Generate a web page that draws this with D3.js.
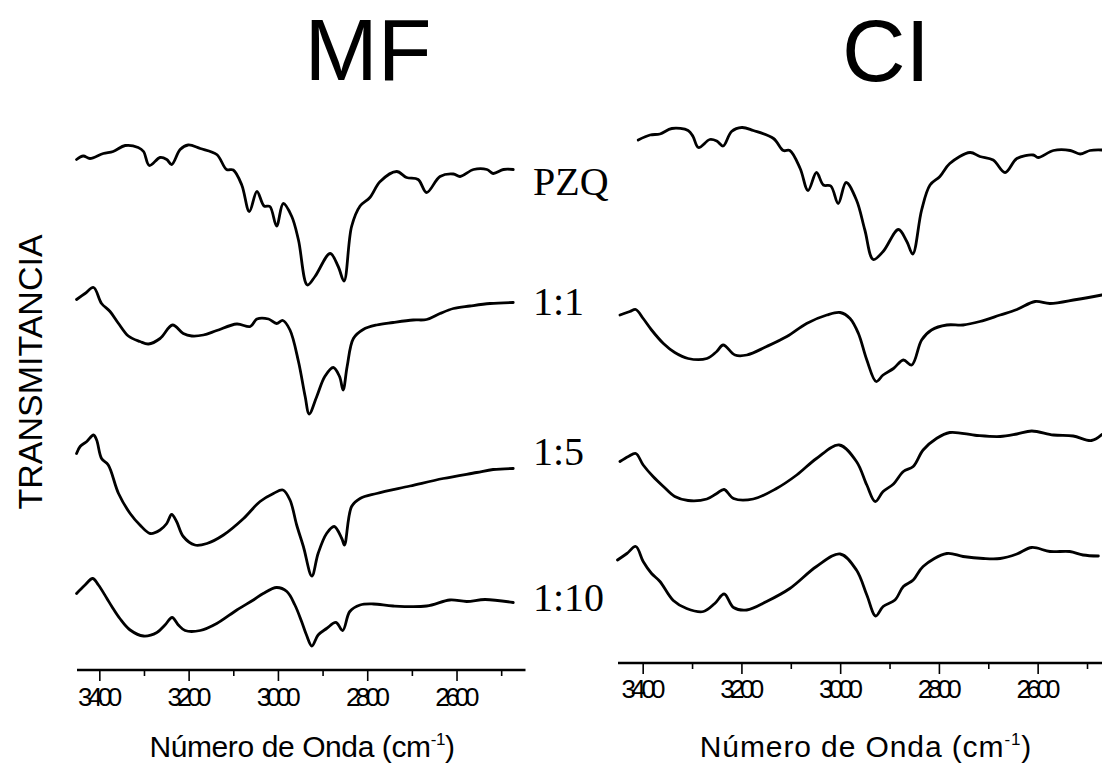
<!DOCTYPE html>
<html>
<head>
<meta charset="utf-8">
<script src="https://cdn.jsdelivr.net/npm/d3@7"></script>
<style>
  html, body { margin: 0; padding: 0; background: #fff; }
  svg { display: block; }
</style>
</head>
<body>
<script>
// ---------- DATA (wavenumber cm^-1, relative transmittance, stacked) ----------
const panels = ["MF", "CI"];
const seriesNames = ["PZQ", "1:1", "1:5", "1:10"];
const majorTicks = [3400, 3200, 3000, 2800, 2600];
const minorTicks = [3300, 3100, 2900, 2700, 2500];
const yTitle = "TRANSMITANCIA";
const xTitle = "Número de Onda (cm";
const xTitleSup = "-1";

// MF panel
const mfPZQ = [[3451,102.1],[3436,102.8],[3421,102.3],[3391,103.3],[3369,103.7],[3342,104.9],[3313,104.5],[3301,103.7],[3288,100.9],[3264,102.5],[3249,102.1],[3238,101.1],[3219,104.1],[3201,105.0],[3174,104.3],[3137,103.1],[3115,100.1],[3100,100.0],[3081,97.0],[3064,91.7],[3047,95.7],[3031,92.8],[3018,92.7],[3003,88.8],[2988,93.3],[2969,90.7],[2954,86.0],[2934,77.0],[2917,78.7],[2883,83.3],[2865,80.7],[2852,77.8],[2835,88.7],[2816,92.8],[2794,94.5],[2771,97.7],[2734,99.7],[2712,98.5],[2686,98.1],[2667,95.5],[2637,98.7],[2607,99.2],[2592,98.7],[2562,100.1],[2532,100.1],[2518,99.3],[2495,100.1],[2473,100.1]];
const mf11 = [[3451,74.1],[3432,75.3],[3413,76.5],[3395,73.3],[3376,71.7],[3357,69.3],[3335,66.8],[3309,65.7],[3290,65.2],[3264,66.3],[3236,69.0],[3212,67.3],[3193,66.8],[3167,67.0],[3137,67.9],[3092,69.2],[3062,68.7],[3047,70.2],[3021,70.2],[3003,69.3],[2989,69.9],[2973,68.0],[2954,61.7],[2939,54.7],[2930,51.2],[2913,54.7],[2895,58.7],[2876,60.5],[2862,58.7],[2854,56.0],[2845,60.7],[2831,66.3],[2809,68.1],[2779,69.0],[2742,69.5],[2697,70.0],[2667,70.1],[2637,71.3],[2607,72.3],[2570,72.8],[2525,73.3],[2473,73.5]];
const mf15 = [[3451,43.3],[3443,44.7],[3428,45.7],[3413,47.0],[3406,46.0],[3395,42.3],[3380,41.0],[3357,35.3],[3331,31.3],[3309,29.0],[3286,27.3],[3264,28.0],[3249,29.3],[3238,31.1],[3227,29.7],[3212,26.7],[3186,25.0],[3159,25.3],[3122,27.0],[3077,30.3],[3040,33.7],[3010,35.3],[2989,36.0],[2973,34.0],[2958,29.0],[2943,24.7],[2924,18.8],[2910,23.3],[2891,27.3],[2874,28.7],[2857,26.3],[2851,25.0],[2835,32.7],[2816,34.3],[2779,35.3],[2704,36.8],[2630,38.3],[2555,39.5],[2518,40.1],[2473,40.3]];
const mf110 = [[3451,15.3],[3432,17.0],[3415,18.3],[3402,17.0],[3383,14.3],[3372,12.7],[3354,10.3],[3331,8.0],[3301,6.8],[3271,7.5],[3253,9.0],[3237,10.5],[3223,9.0],[3208,7.9],[3174,7.9],[3137,9.3],[3092,12.0],[3055,14.0],[3033,15.3],[3003,16.5],[2980,15.7],[2962,13.0],[2947,9.7],[2936,7.0],[2924,4.8],[2910,7.0],[2891,8.3],[2870,9.5],[2855,7.9],[2839,11.7],[2816,13.0],[2786,13.2],[2742,12.8],[2667,12.8],[2615,14.0],[2577,13.7],[2536,14.1],[2473,13.5]];

// CI panel
const ciPZQ = [[3409,104.6],[3385,105.6],[3365,105.8],[3341,106.9],[3308,106.5],[3298,105.3],[3287,103.1],[3264,104.7],[3250,104.4],[3237,103.4],[3220,106.3],[3199,107.1],[3176,106.5],[3135,104.9],[3115,102.5],[3102,102.5],[3081,98.9],[3065,94.5],[3048,98.1],[3034,95.6],[3019,95.4],[3004,91.9],[2988,96.1],[2967,92.6],[2950,86.6],[2933,80.7],[2913,82.3],[2882,86.7],[2865,84.3],[2853,81.8],[2835,90.6],[2818,95.6],[2798,97.3],[2778,99.9],[2737,102.1],[2717,101.3],[2690,100.6],[2666,98.1],[2642,100.9],[2609,101.6],[2599,101.1],[2568,102.5],[2534,102.5],[2514,101.8],[2494,102.5],[2470,102.6]];
const ci11 = [[3446,69.6],[3426,70.3],[3414,70.7],[3399,68.9],[3382,66.6],[3358,63.9],[3335,62.1],[3308,60.9],[3270,60.9],[3250,62.3],[3237,63.6],[3213,61.6],[3189,61.6],[3149,63.3],[3108,65.3],[3068,67.9],[3027,69.6],[3000,70.1],[2980,68.9],[2963,65.9],[2946,60.6],[2927,56.3],[2913,57.6],[2892,58.9],[2872,60.6],[2855,59.6],[2835,64.6],[2815,66.6],[2784,67.6],[2751,67.6],[2717,68.3],[2676,69.6],[2642,70.7],[2605,72.3],[2575,71.9],[2521,72.7],[2470,73.6]];
const ci15 = [[3446,40.3],[3429,41.3],[3414,41.9],[3399,39.6],[3379,37.3],[3358,35.3],[3335,33.3],[3308,32.5],[3270,32.8],[3250,33.9],[3235,34.7],[3216,32.9],[3176,32.8],[3129,34.9],[3088,37.6],[3048,40.9],[3002,43.6],[2967,40.3],[2946,35.6],[2929,32.3],[2913,34.3],[2892,35.8],[2872,38.3],[2852,39.3],[2832,42.6],[2805,44.9],[2778,46.1],[2723,45.5],[2676,45.3],[2642,45.8],[2612,46.4],[2568,45.6],[2528,45.4],[2491,44.5],[2470,45.7]];
const ci110 = [[3451,20.6],[3432,21.9],[3414,23.3],[3399,20.3],[3382,17.9],[3365,16.3],[3338,12.5],[3311,10.9],[3277,10.3],[3254,11.9],[3235,13.8],[3216,11.1],[3189,10.6],[3149,12.3],[3102,14.9],[3048,19.3],[3000,21.8],[2967,18.6],[2946,13.6],[2928,9.4],[2913,11.3],[2889,12.6],[2872,15.3],[2852,16.6],[2832,19.3],[2784,21.9],[2751,21.3],[2710,20.9],[2676,20.9],[2642,21.8],[2612,23.1],[2575,22.3],[2535,22.3],[2508,21.6],[2477,21.4]];

const panelSeries = [[mfPZQ, mf11, mf15, mf110], [ciPZQ, ci11, ci15, ci110]];

// ---------- LAYOUT ----------
const W = 1102, H = 772;
const svg = d3.select("body").append("svg").attr("width", W).attr("height", H)
  .style("font-family", "'Liberation Sans', Arial, sans-serif");
svg.append("rect").attr("width", W).attr("height", H).attr("fill", "#fff");

const panelLayout = [
  { x0: 77, x1: 523.5, axisY: 670, yTop: 120, titleX: 368, titleY: 80, xTitleX: 302, xTitleY: 757, spacing: -0.4, tickLabelY: 18 },
  { x0: 618, x1: 1111.7, axisY: 663, yTop: 113, titleX: 886, titleY: 81, xTitleX: 866, xTitleY: 757, spacing: 0.9, tickLabelY: 17 }
];

panels.forEach((name, p) => {
  const L = panelLayout[p];
  const x = d3.scaleLinear().domain([3450, 2450]).range([L.x0, L.x1]);
  const y = d3.scaleLinear().domain([0, 110]).range([L.axisY, L.yTop]);
  const g = svg.append("g");

  const line = d3.line()
    .x(d => x(d[0])).y(d => y(d[1]))
    .curve(d3.curveCatmullRom.alpha(0.5));

  panelSeries[p].forEach(s => {
    g.append("path").datum(s).attr("d", line)
      .attr("fill", "none").attr("stroke", "#000")
      .attr("stroke-width", 2.8).attr("stroke-linejoin", "round").attr("stroke-linecap", "round");
  });

  // minor ticks
  const minorAxis = d3.axisBottom(x).tickValues(minorTicks).tickSize(6).tickSizeOuter(0).tickFormat("");
  const gm = g.append("g").attr("transform", `translate(0,${L.axisY})`).call(minorAxis);
  gm.select(".domain").remove();
  gm.selectAll("line").attr("stroke", "#000").attr("stroke-width", 1.6);

  // major axis
  const majorAxis = d3.axisBottom(x).tickValues(majorTicks).tickSize(11).tickSizeOuter(0).tickFormat(d3.format("d"));
  const ga = g.append("g").attr("transform", `translate(0,${L.axisY})`).call(majorAxis);
  ga.select(".domain").attr("stroke", "#000").attr("stroke-width", 2.4)
    .attr("d", `M${L.x0},0H${L.x1 + 2}`);
  ga.selectAll(".tick line").attr("stroke", "#000").attr("stroke-width", 1.6);
  ga.selectAll(".tick text")
    .attr("y", L.tickLabelY).attr("dy", "0.71em")
    .attr("dx", "-2px")
    .attr("fill", "#000")
    .style("font-family", "'Liberation Sans', Arial, sans-serif")
    .style("font-size", "26px")
    .style("letter-spacing", "-4.6px");

  // panel title
  svg.append("text").attr("x", L.titleX).attr("y", L.titleY)
    .attr("text-anchor", "middle").style("font-size", "88px").attr("fill", "#000")
    .text(name);

  // x axis title
  const t = svg.append("text").attr("x", L.xTitleX).attr("y", L.xTitleY)
    .attr("text-anchor", "middle").style("font-size", "30px").attr("fill", "#000")
    .style("letter-spacing", L.spacing + "px");
  t.append("tspan").text(xTitle);
  t.append("tspan").attr("dy", -12).style("font-size", "17px").text(xTitleSup);
  t.append("tspan").attr("dy", 12).text(")");
});

// series labels
const labelY = [195, 315, 465, 611];
seriesNames.forEach((n, i) => {
  svg.append("text").attr("x", 533).attr("y", labelY[i])
    .style("font-family", "'Liberation Serif', 'Times New Roman', serif")
    .style("font-size", "40px").attr("fill", "#000").text(n);
});

// y title
svg.append("text").attr("transform", "translate(42,372) rotate(-90)")
  .attr("text-anchor", "middle").style("font-size", "34px").attr("fill", "#000")
  .text(yTitle);
</script>
</body>
</html>
